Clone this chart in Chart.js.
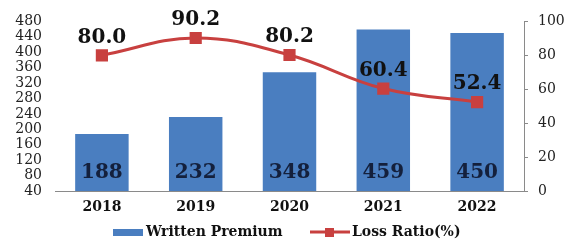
<!DOCTYPE html>
<html>
<head>
<meta charset="utf-8">
<script src="https://cdn.jsdelivr.net/npm/chart.js@4.4.1/dist/chart.umd.min.js"></script>
<style>
html,body{margin:0;padding:0;background:#fff;}
#wrap{width:573px;height:242px;position:relative;}
</style>
</head>
<body>
<div id="wrap"><canvas id="c" width="573" height="242"></canvas></div>
<script>
const categories = ['2018', '2019', '2020', '2021', '2022'];
const writtenPremium = [188, 232, 348, 459, 450];
const lossRatio = [80.0, 90.2, 80.2, 60.4, 52.4];
const leftTicks = [40, 80, 120, 160, 200, 240, 280, 320, 360, 400, 440, 480];
const rightTicks = [0, 20, 40, 60, 80, 100];
const seriesNames = ['Written Premium', 'Loss Ratio(%)'];

const BLUE = '#4A7EC0';
const RED = '#C8403F';
const SERIF = '"DejaVu Serif", serif';

const labelPlugin = {
  id: 'labels',
  afterDatasetsDraw(chart) {
    const ctx = chart.ctx;
    const area = chart.chartArea;
    ctx.save();
    ctx.textAlign = 'center';
    ctx.textBaseline = 'middle';
    ctx.font = 'bold 20px ' + SERIF;
    const barMeta = chart.getDatasetMeta(0);
    barMeta.data.forEach((el, i) => {
      ctx.fillStyle = '#14203C';
      ctx.fillText(String(writtenPremium[i]), el.x, area.bottom - 18);
    });
    const lineMeta = chart.getDatasetMeta(1);
    lineMeta.data.forEach((el, i) => {
      ctx.fillStyle = '#111';
      ctx.fillText(lossRatio[i].toFixed(1), el.x, el.y - 18);
    });
    ctx.restore();
  },
  afterDraw(chart) {
    const ctx = chart.ctx;
    ctx.save();
    const y = 232;
    ctx.font = 'bold 14px ' + SERIF;
    ctx.textBaseline = 'middle';
    ctx.textAlign = 'left';
    ctx.fillStyle = BLUE;
    ctx.fillRect(113, y - 3, 30, 7);
    ctx.fillStyle = '#111';
    ctx.fillText(seriesNames[0], 146, y);
    ctx.strokeStyle = RED;
    ctx.lineWidth = 3;
    ctx.beginPath();
    ctx.moveTo(310, y);
    ctx.lineTo(350, y);
    ctx.stroke();
    ctx.fillStyle = RED;
    ctx.fillRect(325, y - 4, 9, 9);
    ctx.fillStyle = '#111';
    ctx.fillText(seriesNames[1], 352, y);
    ctx.restore();
  }
};

new Chart(document.getElementById('c'), {
  type: 'bar',
  data: {
    labels: categories,
    datasets: [
      {
        type: 'bar',
        label: seriesNames[0],
        data: writtenPremium,
        backgroundColor: BLUE,
        yAxisID: 'y',
        base: 40,
        barPercentage: 0.57,
        categoryPercentage: 1.0,
        order: 2
      },
      {
        type: 'line',
        label: seriesNames[1],
        data: lossRatio,
        borderColor: RED,
        backgroundColor: RED,
        borderWidth: 3,
        tension: 0.4,
        pointStyle: 'rect',
        pointRadius: 6.5,
        pointBackgroundColor: RED,
        pointBorderColor: RED,
        yAxisID: 'y1',
        order: 1
      }
    ]
  },
  options: {
    responsive: false,
    animation: false,
    devicePixelRatio: 1,
    layout: { padding: { top: 18, left: 0, right: 0, bottom: 0 } },
    plugins: { legend: { display: false }, tooltip: { enabled: false } },
    scales: {
      x: {
        grid: { display: false, drawTicks: false },
        border: { display: true, color: '#8a8a8a', width: 1 },
        ticks: { color: '#111', font: { family: SERIF, size: 14, weight: 'bold' }, padding: 8 },
        afterFit(s) { s.height = 51; }
      },
      y: {
        position: 'left',
        min: 40, max: 480,
        afterBuildTicks(s) { s.ticks = leftTicks.map(v => ({ value: v })); },
        grid: { display: false, drawTicks: false },
        border: { display: false },
        ticks: { autoSkip: false, color: '#222', font: { family: SERIF, size: 14 }, padding: 13 },
        afterFit(s) { s.width = 55; }
      },
      y1: {
        position: 'right',
        min: 0, max: 100,
        afterBuildTicks(s) { s.ticks = rightTicks.map(v => ({ value: v })); },
        grid: { display: true, drawOnChartArea: false, drawTicks: true, tickLength: 4, color: '#8a8a8a' },
        border: { display: true, color: '#8a8a8a', width: 1 },
        ticks: { autoSkip: false, color: '#222', font: { family: SERIF, size: 14 }, padding: 10 },
        afterFit(s) { s.width = 49; }
      }
    }
  },
  plugins: [labelPlugin]
});
</script>
</body>
</html>
